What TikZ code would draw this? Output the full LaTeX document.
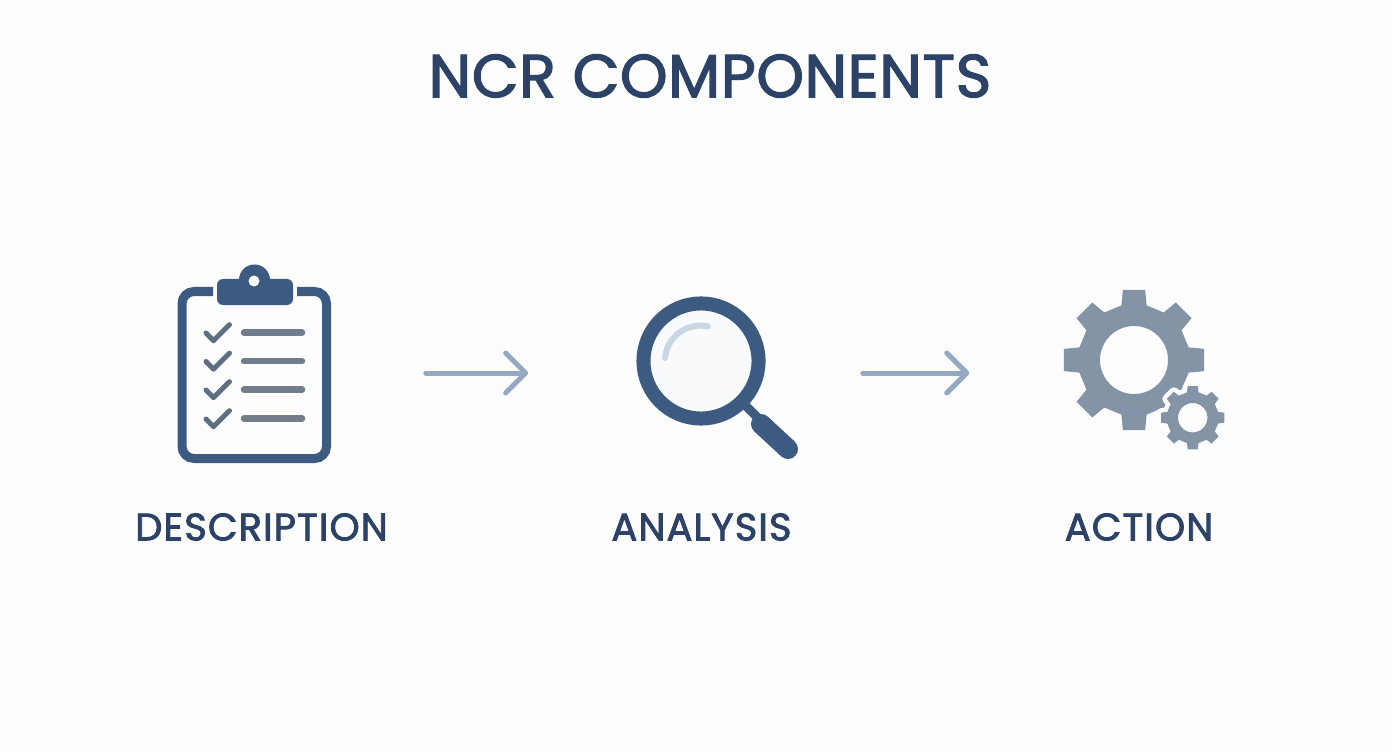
\documentclass[tikz,border=0pt]{standalone}
\usepackage{fontspec}
\setmainfont{Poppins}
\newfontfamily\titlefont[FakeBold=2.2, LetterSpace=1]{Poppins}
\newfontfamily\labelfont[FakeBold=2.2, LetterSpace=3]{Poppins}
\usetikzlibrary{arrows.meta,calc}
\definecolor{ncrbg}{HTML}{FDFDFE}
\definecolor{ncrtext}{HTML}{2C4266}
\definecolor{ncrmain}{HTML}{3D5A80}
\definecolor{ncrcheck}{HTML}{5F6F82}
\definecolor{ncrrow}{HTML}{717C8C}
\definecolor{ncrgear}{HTML}{8494A7}
\definecolor{ncrarrow}{HTML}{93A8C1}
\definecolor{ncrglass}{HTML}{F8FAFC}
\definecolor{ncrshine}{HTML}{C9D7E5}
\tikzset{
    titletext/.style={text=ncrtext, font=\titlefont\fontsize{17.2}{20}\selectfont},
    labeltext/.style={text=ncrtext, font=\labelfont\fontsize{10.9}{12}\selectfont},
    iconbox/.style={inner sep=0pt, minimum height=0.4cm},
    flowarrow/.style={draw=ncrarrow, line width=0.05cm, line cap=round, line join=round,
        -{Straight Barb[length=0.2cm, width=0.4cm, round]}},
    checkmark/.style={draw=ncrcheck, line width=0.05cm, line cap=round, line join=round},
    rowline/.style={draw=ncrrow, line width=0.065cm, line cap=round}
}
% gear: centre x, centre y, tip radius, root radius, hole radius
\newcommand{\gearshape}[6][]{
    \path[#1] ($(#2,#3)+(-32:#5)$) \foreach \t in {0,45,...,315} {
        -- ($(#2,#3)+(\t-13:#5)$) -- ($(#2,#3)+(\t-9:#4)$)
        -- ($(#2,#3)+(\t+9:#4)$) -- ($(#2,#3)+(\t+13:#5)$)
        -- ($(#2,#3)+(\t+32:#5)$)
    } -- cycle (#2,#3) circle[radius=#6];
}
\begin{document}
\begin{tikzpicture}[x=0.01cm, y=-0.01cm]
    \useasboundingbox (0,0) rectangle (1392,752);
    \fill[ncrbg] (0,0) rectangle (1392,752);

    % Title
    \node[titletext] (title) at (710,76) {NCR COMPONENTS};

    % Icon slots
    \node[iconbox, minimum width=1.54cm] (descicon) at (254,373) {};
    \node[iconbox, minimum width=1.62cm] (anaicon) at (718,373) {};
    \node[iconbox, minimum width=1.64cm] (acticon) at (1144,373) {};

    % Clipboard
    \draw[draw=ncrmain, line width=0.09cm, rounded corners=0.12cm]
        (213,291.5) -- (182,291.5) -- (182,458.5) -- (326.5,458.5) -- (326.5,291.5) -- (297,291.5);
    \fill[ncrmain] (254.5,280) circle[radius=0.155cm];
    \fill[ncrmain, rounded corners=0.06cm] (217,279) rectangle (293,305);
    \fill[white] (254,281) circle[radius=0.055cm];
    \foreach \y in {0,28.5,57,86} {
        \draw[checkmark] (206,333+\y) -- (213.5,340.7+\y) -- (229.5,324.7+\y);
        \draw[rowline] (244,332.7+\y) -- (302,332.7+\y);
    }

    % Magnifier
    \fill[ncrglass] (701,361) circle[radius=0.52cm];
    \draw[ncrmain, line width=0.14cm] (701,361) circle[radius=0.575cm];
    \draw[ncrshine, line width=0.06cm, line cap=round] (665,358) arc[start angle=175, end angle=78, radius=0.355cm];
    \draw[ncrmain, line width=0.09cm] (745,405) -- (765,425);
    \draw[ncrmain, line width=0.2cm, line cap=round] (761,424) -- (788,449);

    % Gears
    \gearshape[fill=ncrgear, even odd rule]{1134}{360}{0.71cm}{0.56cm}{0.34cm}
    \gearshape[fill=ncrbg, draw=ncrbg, line width=0.09cm, line join=round]{1192.7}{417.7}{0.32cm}{0.26cm}{0cm}
    \gearshape[fill=ncrgear, even odd rule]{1192.7}{417.7}{0.32cm}{0.26cm}{0.147cm}

    % Flow
    \draw[flowarrow, shorten <=0.94cm, shorten >=1.08cm] (descicon) -- (anaicon);
    \draw[flowarrow, shorten <=0.63cm, shorten >=0.92cm] (anaicon) -- (acticon);

    % Labels
    \node[labeltext] (desclabel) at (261.5,527) {DESCRIPTION};
    \node[labeltext] (analabel) at (701.5,527) {ANALYSIS};
    \node[labeltext] (actlabel) at (1139,527) {ACTION};
\end{tikzpicture}
\end{document}
